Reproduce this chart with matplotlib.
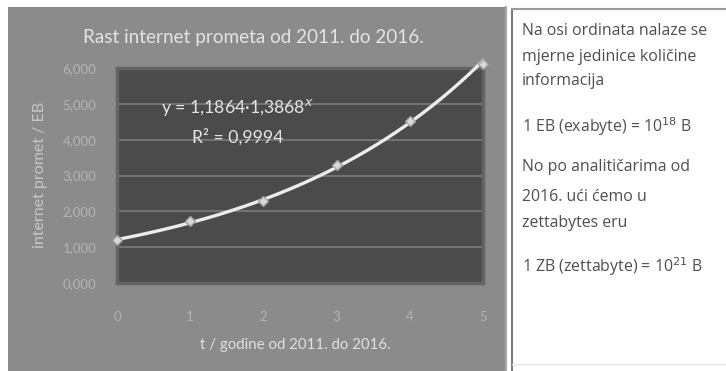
import matplotlib
matplotlib.use("Agg")
import matplotlib.pyplot as plt
from matplotlib.patches import Rectangle
from matplotlib.lines import Line2D
import numpy as np

# --- DATA ---
t_years = [0, 1, 2, 3, 4, 5]
traffic_eb = [1.19, 1.72, 2.30, 3.28, 4.52, 6.10]
y_ticks = [0, 1, 2, 3, 4, 5, 6]

title = "Rast internet prometa od 2011. do 2016."
x_label = "t / godine od 2011. do 2016."
y_label = "internet promet / EB"
eq_text = "y = 1,1864·1,3868$^{x}$"
r2_text = "R² = 0,9994"
note_lines = [
    "Na osi ordinata nalaze se",
    "mjerne jedinice količine",
    "informacija",
    "1 EB (exabyte) = 10$^{18}$ B",
    "No po analitičarima od",
    "2016. ući ćemo u",
    "zettabytes eru",
    "1 ZB (zettabyte) = 10$^{21}$ B",
]
note_y_px = [31, 57, 81, 127, 167, 197, 223, 267]

plt.rcParams['font.family'] = ['Lato', 'DejaVu Sans']

W, H = 726, 371
fig = plt.figure(figsize=(W / 100, H / 100), dpi=100)
fig.patch.set_facecolor("white")


def fx(px):
    return px / W


def fy(py):
    return 1 - py / H


# chart panel (grey background)
fig.patches.append(Rectangle((fx(8), 0), fx(505) - fx(8), fy(7),
                             transform=fig.transFigure, facecolor="#8b8b8b",
                             edgecolor="none", zorder=-10))
fig.lines.append(Line2D([fx(506), fx(506)], [0, fy(7)], transform=fig.transFigure,
                        color="#a5a5a5", lw=1.5, zorder=-9))

# right note box
fig.lines.append(Line2D([fx(512), fx(512)], [0, fy(9)], transform=fig.transFigure,
                        color="#7a7a7a", lw=1.5))
fig.lines.append(Line2D([fx(512), 1], [fy(9), fy(9)], transform=fig.transFigure,
                        color="#9a9a9a", lw=1.5))
fig.lines.append(Line2D([fx(512), 1], [fy(364), fy(364)], transform=fig.transFigure,
                        color="#e4e4e4", lw=1))
for txt, py in zip(note_lines, note_y_px):
    fig.text(fx(522), fy(py), txt, ha="left", va="center", fontsize=11.4,
             color="#4f4f4f", family=["Open Sans", "DejaVu Sans"])

# plot area
ax = fig.add_axes([fx(117), fy(283), fx(483) - fx(117), fy(68) - fy(283)])
ax.set_facecolor("#4b4b4b")
for s in ax.spines.values():
    s.set_color("#646464")
    s.set_linewidth(2.5)

ax.set_xlim(0, 5)
ax.set_ylim(0, 6)
ax.set_yticks(y_ticks)
ax.set_xticks(t_years)
ax.set_yticklabels([f"{v:.3f}".replace(".", ",") for v in y_ticks])
ax.tick_params(length=0, colors="#b4b4b4", labelsize=9.5)
ax.tick_params(axis="y", pad=15)
ax.tick_params(axis="x", pad=20)
ax.grid(axis="y", color="#7c7c7c", lw=1.2)
ax.set_axisbelow(True)

# exponential trendline fitted to the data
slope, intercept = np.polyfit(t_years, np.log(traffic_eb), 1)
tt = np.linspace(0, 5, 200)
ax.plot(tt, np.exp(intercept) * np.exp(slope * tt), color="#ececec", lw=2.4,
        zorder=3, clip_on=False)
ax.plot(t_years, traffic_eb, linestyle="none", marker="D", markersize=5,
        markerfacecolor="#d8d8d8", markeredgecolor="#a0a0a0", zorder=4,
        clip_on=False)

fig.text(fx(237), fy(108), eq_text, ha="center", va="center", fontsize=12.7,
         color="#e6e6e6")
fig.text(fx(238), fy(137), r2_text, ha="center", va="center", fontsize=12.7,
         color="#e6e6e6")

fig.text(fx(253), fy(37), title, ha="center", va="center", fontsize=13.6,
         color="#e4e4e4")
fig.text(fx(295), fy(345), x_label, ha="center", va="center", fontsize=10.8,
         color="#e0e0e0")
fig.text(fx(40), fy(175), y_label, ha="center", va="center", rotation=90,
         fontsize=11.5, color="#c8c8c8")

fig.savefig("out.png", dpi=100, facecolor=fig.get_facecolor())
